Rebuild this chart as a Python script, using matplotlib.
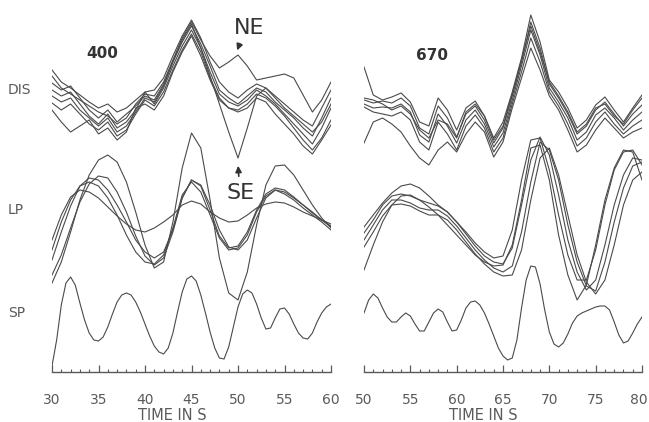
import numpy as np
import matplotlib
matplotlib.use("Agg")
import matplotlib.pyplot as plt
import matplotlib.transforms as mtransforms
from matplotlib.ticker import MultipleLocator


# ── Data (in image rows: 0 = top, 372 = time axis) ──
T_LEFT = list(range(30, 61))          # 1 s grid, 400 panel
T_RIGHT = list(range(50, 81))         # 1 s grid, 670 panel
T_LEFT_SP = [30 + 0.5 * i for i in range(61)]
T_RIGHT_SP = [50 + 0.5 * i for i in range(61)]

dis_left = [
    [70, 82, 88, 95, 102, 108, 104, 112, 108, 100, 92, 90, 78, 56, 36, 20, 38, 62, 82, 92, 98, 90, 84, 88, 96, 104, 112, 120, 126, 108, 90],
    [83, 90, 86, 98, 110, 118, 110, 122, 114, 106, 96, 100, 84, 62, 42, 26, 44, 66, 90, 98, 104, 96, 88, 92, 102, 110, 118, 128, 136, 118, 98],
    [90, 96, 92, 104, 116, 124, 114, 128, 122, 110, 92, 104, 88, 66, 46, 30, 48, 72, 94, 102, 106, 100, 90, 96, 104, 114, 124, 134, 144, 128, 108],
    [103, 110, 104, 114, 124, 130, 122, 136, 130, 114, 100, 106, 92, 70, 50, 34, 52, 78, 98, 108, 110, 104, 94, 98, 106, 116, 128, 140, 150, 138, 120],
    [110, 122, 132, 126, 120, 134, 128, 140, 132, 108, 104, 110, 96, 72, 52, 36, 56, 80, 100, 108, 112, 108, 98, 102, 114, 124, 134, 146, 154, 140, 125],
    # NE
    [76, 88, 94, 100, 106, 112, 116, 124, 118, 104, 94, 96, 82, 60, 38, 22, 40, 56, 68, 62, 55, 66, 80, 78, 76, 74, 78, 95, 112, 100, 82],
    # SE
    [96, 102, 98, 110, 118, 126, 118, 132, 126, 112, 98, 102, 86, 62, 40, 24, 48, 76, 104, 132, 158, 128, 96, 88, 98, 108, 116, 124, 132, 122, 104],
]

lp_left = [
    [283, 262, 232, 200, 175, 160, 155, 162, 182, 212, 245, 268, 262, 222, 168, 133, 148, 200, 258, 293, 300, 272, 225, 185, 166, 165, 175, 190, 205, 218, 228],
    [240, 215, 197, 190, 192, 198, 207, 216, 224, 230, 232, 228, 222, 215, 205, 201, 204, 212, 218, 222, 221, 215, 208, 204, 202, 203, 207, 212, 216, 220, 224],
    [260, 232, 206, 186, 178, 180, 190, 205, 222, 240, 252, 258, 252, 230, 198, 180, 185, 205, 230, 247, 250, 240, 218, 198, 190, 192, 198, 205, 212, 220, 226],
    [250, 222, 200, 186, 182, 186, 198, 215, 235, 252, 262, 264, 255, 228, 195, 182, 192, 215, 238, 250, 248, 235, 212, 196, 190, 194, 200, 208, 215, 222, 230],
    [275, 255, 228, 202, 184, 176, 178, 192, 212, 236, 256, 265, 258, 232, 198, 180, 186, 210, 236, 248, 246, 232, 210, 194, 188, 190, 197, 205, 213, 220, 227],
]

sp_left = [366, 340, 305, 283, 277, 285, 303, 320, 333, 340, 341, 337, 327, 314, 302, 295,
           293, 295, 302, 312, 324, 336, 346, 352, 354, 348, 333, 312, 292, 279, 276, 281,
           295, 313, 332, 348, 358, 359, 347, 327, 307, 294, 290, 293, 304, 318, 329, 328,
           318, 309, 308, 314, 324, 333, 338, 339, 333, 322, 313, 307, 304]

dis_right = [
    [67, 95, 100, 97, 93, 102, 122, 126, 98, 110, 130, 108, 101, 116, 138, 122, 92, 58, 15, 42, 80, 92, 108, 128, 120, 105, 97, 110, 122, 108, 95],
    [100, 103, 101, 103, 98, 106, 128, 134, 106, 118, 137, 114, 106, 120, 143, 128, 96, 62, 22, 48, 84, 98, 114, 134, 126, 110, 102, 114, 126, 114, 105],
    [104, 108, 107, 108, 104, 112, 135, 142, 114, 126, 143, 120, 110, 124, 147, 133, 100, 66, 30, 55, 88, 102, 118, 140, 132, 115, 108, 118, 130, 120, 112],
    [107, 112, 114, 116, 112, 120, 142, 150, 122, 134, 150, 126, 115, 128, 152, 138, 104, 72, 38, 62, 92, 106, 124, 146, 138, 122, 112, 124, 134, 126, 120],
    [143, 122, 118, 124, 132, 146, 158, 165, 150, 142, 152, 134, 122, 132, 157, 142, 108, 78, 48, 70, 96, 110, 130, 152, 145, 130, 118, 128, 138, 132, 128],
    [98, 100, 104, 110, 106, 114, 130, 138, 120, 124, 138, 112, 104, 116, 140, 126, 94, 60, 26, 52, 82, 96, 112, 132, 124, 108, 104, 116, 124, 110, 98],
]

lp_right = [
    [227, 215, 203, 193, 186, 184, 188, 196, 205, 212, 222, 232, 243, 252, 258, 256, 230, 180, 140, 138, 170, 215, 255, 280, 280, 250, 205, 170, 152, 150, 165],
    [233, 220, 205, 196, 194, 196, 200, 203, 206, 212, 222, 234, 246, 256, 262, 264, 248, 205, 160, 137, 155, 195, 240, 272, 290, 280, 245, 205, 175, 158, 160],
    [240, 225, 210, 200, 200, 203, 208, 210, 210, 216, 226, 238, 250, 260, 268, 272, 266, 232, 182, 142, 150, 180, 225, 262, 286, 291, 262, 222, 188, 166, 162],
    [247, 232, 216, 205, 204, 206, 211, 215, 215, 220, 230, 242, 254, 264, 272, 276, 275, 250, 200, 158, 148, 175, 215, 255, 282, 294, 280, 245, 205, 180, 172],
    [270, 245, 222, 205, 196, 195, 200, 207, 215, 225, 235, 245, 255, 262, 266, 265, 245, 200, 148, 145, 180, 235, 275, 300, 285, 245, 200, 168, 150, 152, 180],
]

sp_right = [313, 300, 294, 298, 308, 317, 322, 322, 317, 313, 316, 324, 331, 331, 322, 313,
            309, 312, 322, 331, 330, 320, 308, 302, 301, 305, 313, 324, 336, 348, 356, 360,
            358, 340, 308, 280, 266, 267, 284, 310, 332, 344, 347, 343, 334, 323, 316, 313,
            311, 309, 307, 306, 306, 310, 322, 335, 343, 341, 333, 324, 317]

LINE_COLOR = "#4a4a4a"
TEXT_COLOR = "#5a5a5a"


# ── Helpers ───────────────────────────────────────────────────────────────────
def draw_panel(ax, t, t_sp, dis, lp, sp, xlim):
    for tr in dis:
        ax.plot(t, tr, color=LINE_COLOR, linewidth=0.8)
    for tr in lp:
        ax.plot(t, tr, color=LINE_COLOR, linewidth=0.8)
    ax.plot(t_sp, sp, color=LINE_COLOR, linewidth=0.8)

    ax.set_xlim(*xlim)
    ax.set_ylim(372, 0)
    for side in ["left", "right", "top"]:
        ax.spines[side].set_visible(False)
    ax.spines["bottom"].set_color(TEXT_COLOR)
    ax.spines["bottom"].set_linewidth(1.0)
    ax.set_yticks([])
    ax.set_xticks(np.arange(xlim[0], xlim[1] + 1, 5))
    ax.xaxis.set_minor_locator(MultipleLocator(1))
    ax.tick_params(axis="x", which="major", direction="in", length=5, width=0.9,
                   pad=15, labelsize=10, colors=TEXT_COLOR)
    ax.tick_params(axis="x", which="minor", direction="in", length=2.5, width=0.8,
                   colors=TEXT_COLOR)
    ax.patch.set_alpha(0)
    ax.text(0.43, -0.118, "TIME IN S", transform=ax.transAxes, ha="center",
            va="center", fontsize=10.5, color=TEXT_COLOR)


# ── Figure ────────────────────────────────────────────────────────────────────
fig = plt.figure(figsize=(6.49, 4.22), dpi=100)
W, H = 649, 422
ax_l = fig.add_axes([52 / W, 50 / H, 279 / W, 372 / H])
ax_r = fig.add_axes([364 / W, 50 / H, 278 / W, 372 / H])

draw_panel(ax_l, T_LEFT, T_LEFT_SP, dis_left, lp_left, sp_left, (30, 60))
draw_panel(ax_r, T_RIGHT, T_RIGHT_SP, dis_right, lp_right, sp_right, (50, 80))

# keep the last "80" inside the canvas
last = ax_r.get_xticklabels()[-1]
last.set_transform(last.get_transform() +
                   mtransforms.ScaledTranslation(-3 / 100, 0, fig.dpi_scale_trans))

ax_l.text(35.4, 53, "400", ha="center", va="center", fontsize=11,
          fontweight="bold", color="#333333")
ax_r.text(57.3, 55, "670", ha="center", va="center", fontsize=11,
          fontweight="bold", color="#333333")

ax_l.text(51.2, 28, "NE", ha="center", va="center", fontsize=16, color="#333333")
ax_l.annotate("", xy=(49.8, 53), xytext=(50.3, 41),
              arrowprops=dict(arrowstyle="-|>", color="#333333", lw=1.2,
                              mutation_scale=9))
ax_l.text(50.3, 193, "SE", ha="center", va="center", fontsize=16, color="#333333")
ax_l.annotate("", xy=(50.0, 163), xytext=(50.1, 179),
              arrowprops=dict(arrowstyle="-|>", color="#333333", lw=1.2,
                              mutation_scale=9))

for label, row in [("DIS", 90), ("LP", 210), ("SP", 313)]:
    fig.text(8 / W, 1 - row / H, label, ha="left", va="center",
             fontsize=10, color=TEXT_COLOR)

plt.savefig("out.png", dpi=100)
plt.close()
